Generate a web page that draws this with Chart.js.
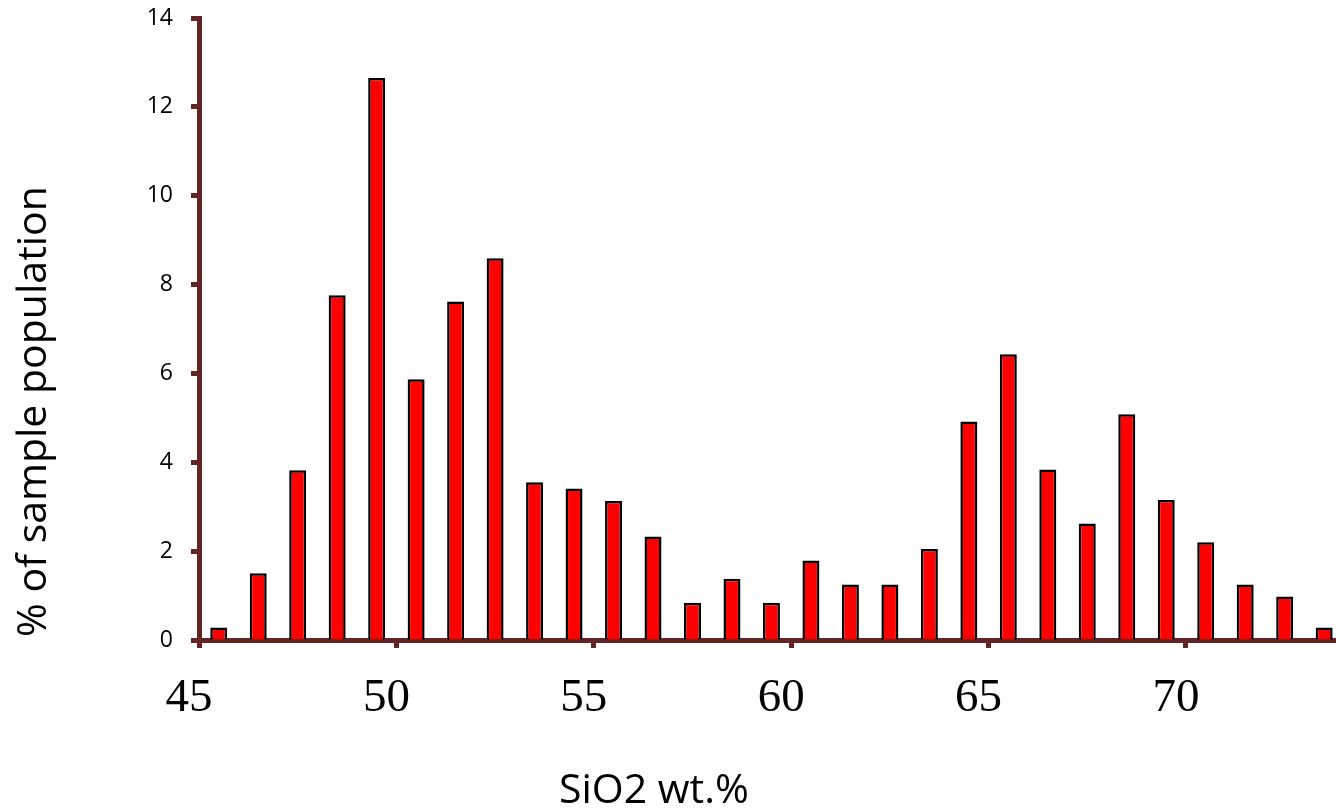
<!DOCTYPE html>
<html>
<head>
<meta charset="utf-8">
<script src="https://cdn.jsdelivr.net/npm/chart.js@4/dist/chart.umd.min.js"></script>
<style>
    html, body { margin: 0; padding: 0; background: #fff; overflow: hidden; }
    #wrap { position: relative; width: 1336px; height: 812px; }
</style>
</head>
<body>
<div id="wrap"><canvas id="silica"></canvas></div>
<script>
"use strict"

// bin centres (SiO2 wt.%) and share of samples in each 1% bin
var binCenters = [45.5, 46.5, 47.5, 48.5, 49.5, 50.5, 51.5, 52.5, 53.5, 54.5,
                  55.5, 56.5, 57.5, 58.5, 59.5, 60.5, 61.5, 62.5, 63.5, 64.5,
                  65.5, 66.5, 67.5, 68.5, 69.5, 70.5, 71.5, 72.5, 73.5];
var samplePct  = [0.28, 1.5, 3.82, 7.76, 12.65, 5.87, 7.62, 8.59, 3.55, 3.41,
                  3.13, 2.33, 0.84, 1.38, 0.84, 1.79, 1.25, 1.25, 2.05, 4.92,
                  6.43, 3.84, 2.62, 5.08, 3.15, 2.2, 1.25, 0.98, 0.28];

var xTickValues = [45, 50, 55, 60, 65, 70];
var yTickValues = [0, 2, 4, 6, 8, 10, 12, 14];

var xTitle = "SiO2 wt.%";
var yTitle = "% of sample population";

var AXIS_COLOR = "#632523";

function buildPoints(xs, ys){
    var arr = [];
    for (var i in xs){
        arr.push({x: xs[i], y: ys[i]});
    }
    return arr;
}

function setTicks(values){
    return function(scale){
        scale.ticks = values.map(function(v){ return {value: v}; });
    };
}

// axis titles sit off-centre, so they are drawn here instead of by the scales
var axisTitles = {
    id: "axisTitles",
    afterDraw: function(chart){
        var ctx = chart.ctx;
        ctx.save();
        ctx.fillStyle = "#000";
        ctx.textAlign = "left";
        ctx.textBaseline = "alphabetic";
        ctx.font = '41px "Open Sans"';
        ctx.fillText(xTitle, 559, 803);

        ctx.font = '41px "Open Sans"';
        ctx.translate(46, 637);
        ctx.rotate(-Math.PI / 2);
        ctx.fillText(yTitle, 0, 0);
        ctx.restore();
    }
};

var chart = new Chart(document.getElementById("silica"), {
    type: "bar",
    data: {
        datasets: [{
            data: buildPoints(binCenters, samplePct),
            backgroundColor: "#ff0000",
            borderColor: "#000000",
            borderWidth: 2.5,
            barPercentage: 0.43,
            categoryPercentage: 1
        }]
    },
    options: {
        responsive: true,
        maintainAspectRatio: false,
        animation: false,
        layout: { padding: { top: 18, right: 0, left: 0, bottom: 0 } },
        plugins: {
            legend: { display: false },
            tooltip: { enabled: false }
        },
        scales: {
            x: {
                type: "linear",
                min: 45,
                max: 73.8,
                offset: false,
                z: 1,
                afterBuildTicks: setTicks(xTickValues),
                afterFit: function(scale){ scale.height = 172; },
                border: { display: true, color: AXIS_COLOR, width: 5 },
                grid: {
                    offset: false,
                    drawOnChartArea: false,
                    drawTicks: true,
                    tickLength: 8,
                    tickWidth: 5,
                    tickColor: AXIS_COLOR
                },
                ticks: {
                    autoSkip: false,
                    maxRotation: 0,
                    padding: 22,
                    labelOffset: -10,
                    color: "#000",
                    font: { family: '"Liberation Serif", "Times New Roman", serif', size: 47 }
                }
            },
            y: {
                min: 0,
                max: 14,
                z: 1,
                afterBuildTicks: setTicks(yTickValues),
                afterFit: function(scale){
                    scale.width = 199;
                    // keep the top tick label from pushing the plot down
                    scale.paddingTop = 0;
                    scale.paddingBottom = 0;
                },
                border: { display: true, color: AXIS_COLOR, width: 5 },
                grid: {
                    drawOnChartArea: false,
                    drawTicks: true,
                    tickLength: 8,
                    tickWidth: 5,
                    tickColor: AXIS_COLOR
                },
                ticks: {
                    padding: 18,
                    color: "#000",
                    font: { family: '"Open Sans", sans-serif', size: 23 }
                }
            }
        }
    },
    plugins: [axisTitles]
});
</script>
</body>
</html>
